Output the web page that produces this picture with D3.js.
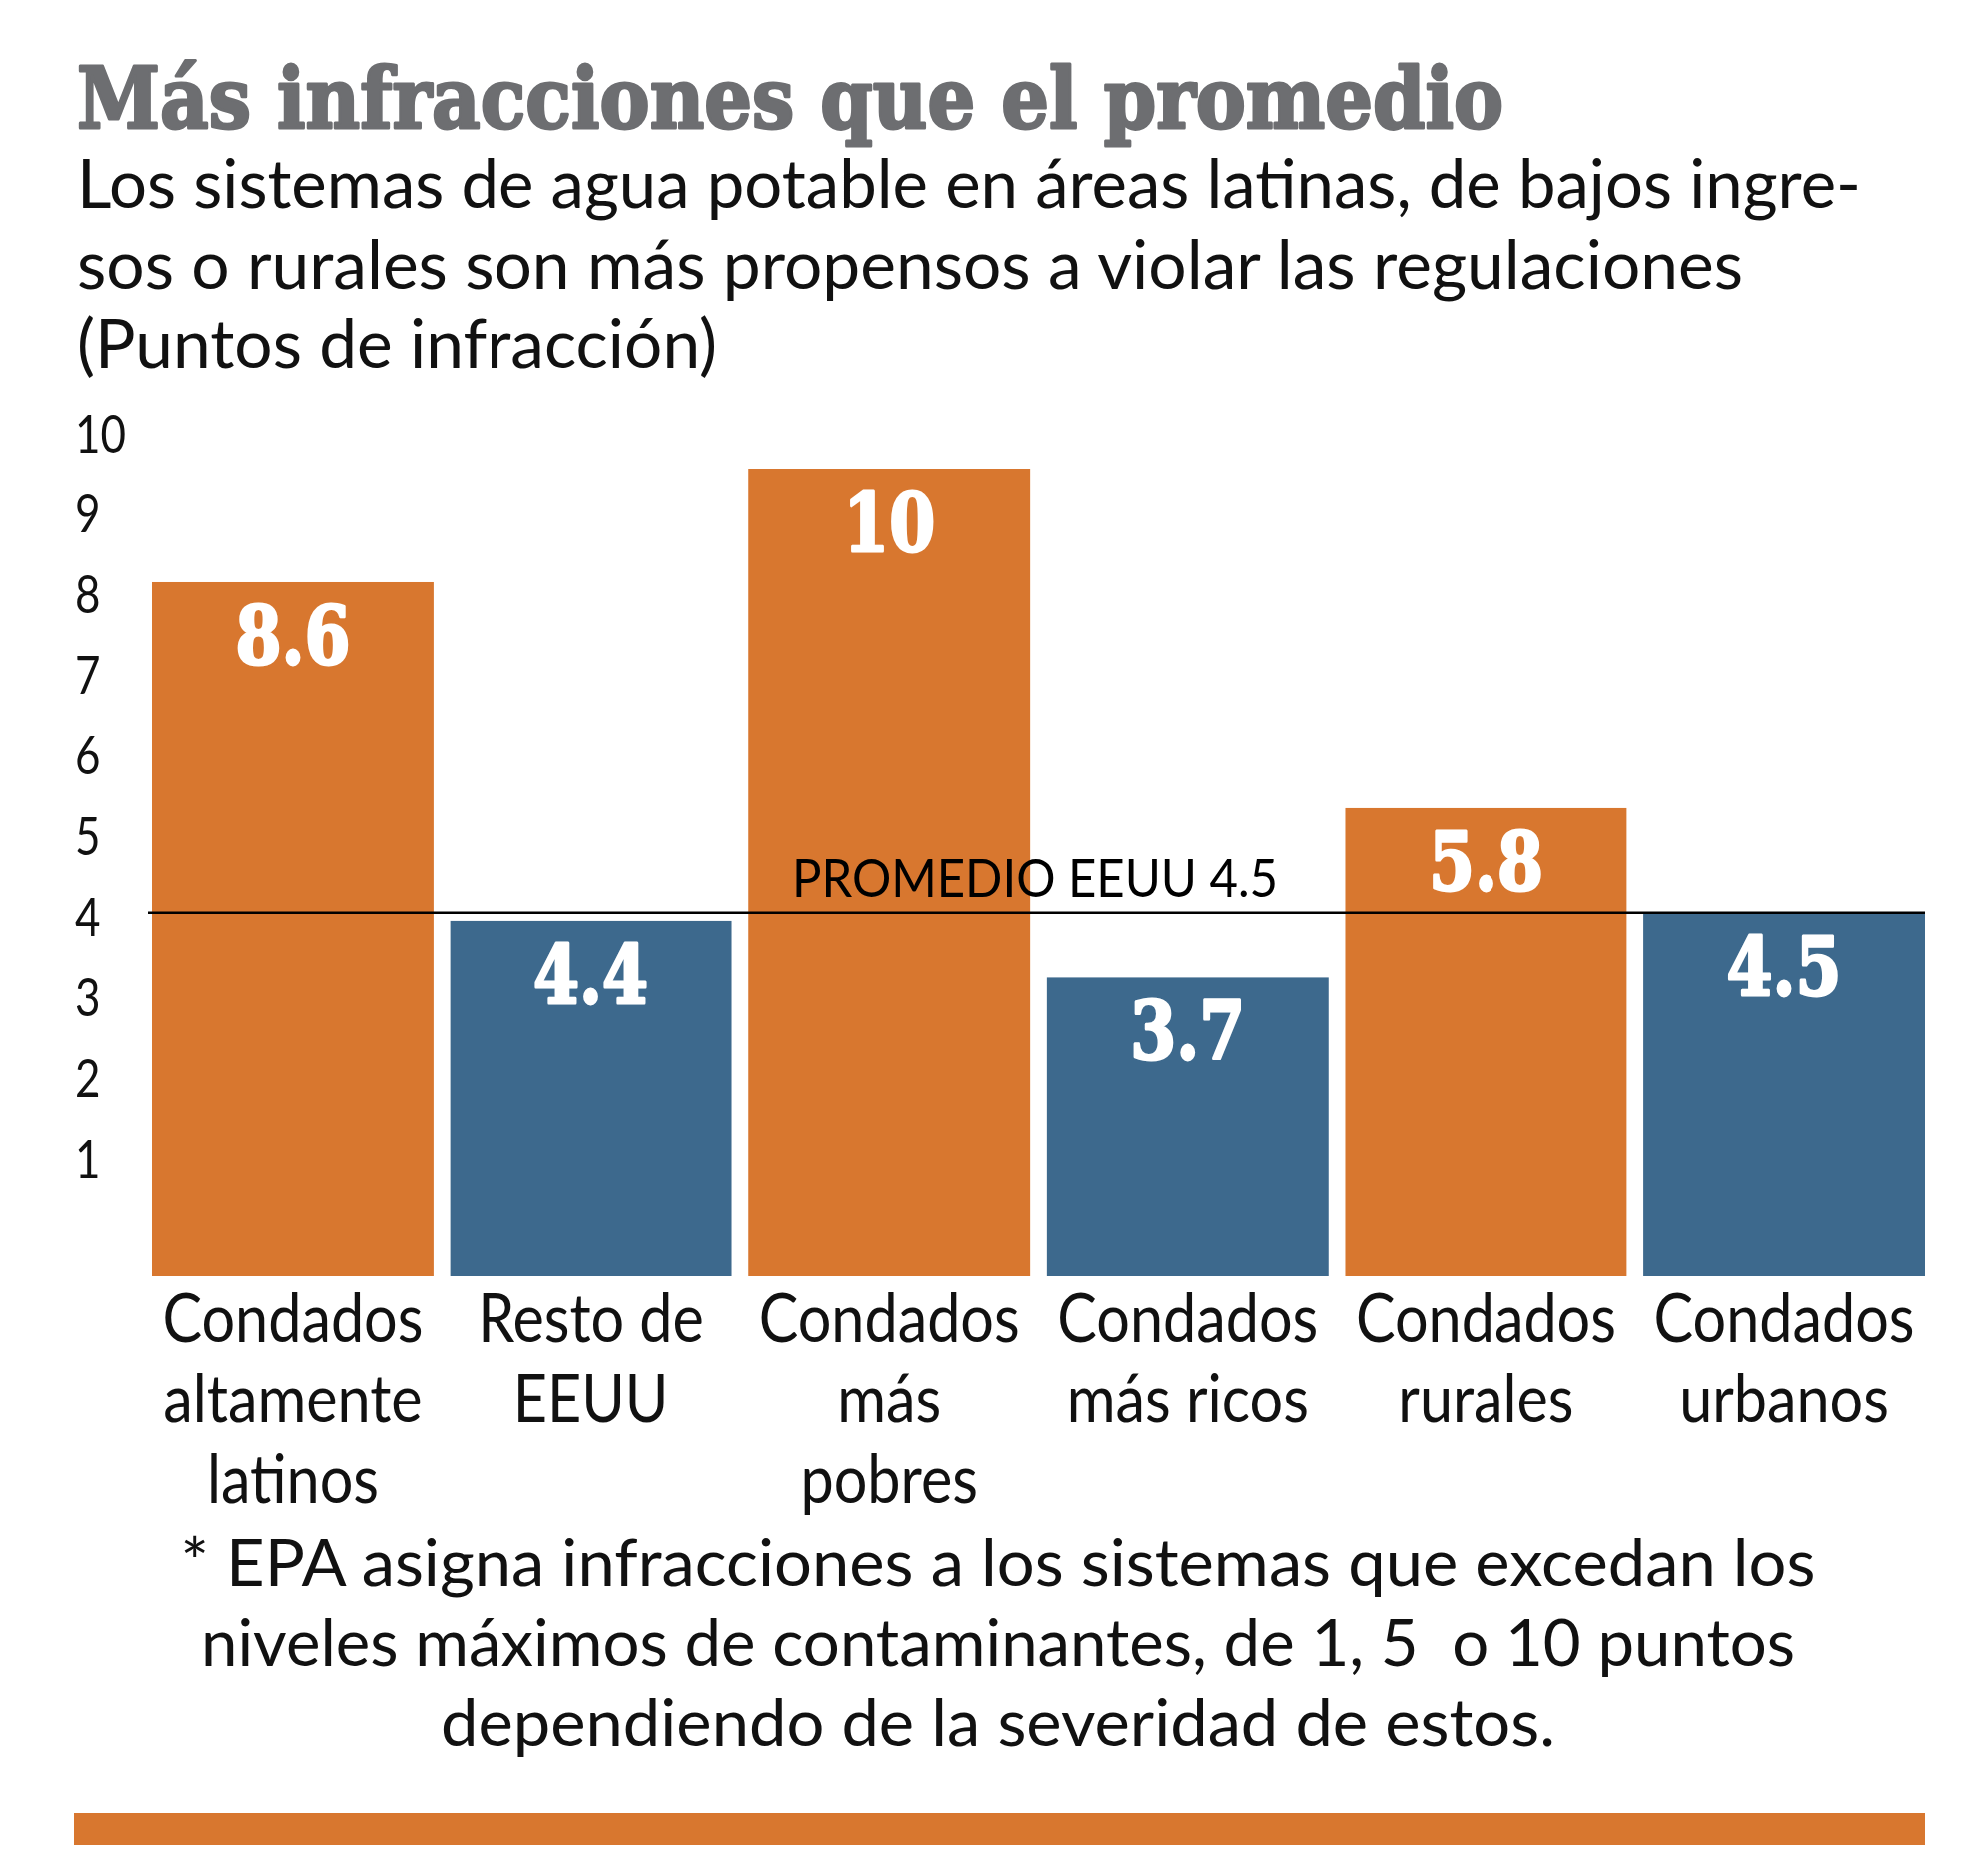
<!DOCTYPE html>
<html>
<head>
<meta charset="utf-8">
<script src="https://cdn.jsdelivr.net/npm/d3@7"></script>
<style>
  html, body { margin: 0; padding: 0; background: #ffffff; }
  svg { display: block; }
  text { white-space: pre; }
</style>
</head>
<body>
<script>
// ---------- data ----------
const categories = [
  "Condados altamente latinos",
  "Resto de EEUU",
  "Condados más pobres",
  "Condados más ricos",
  "Condados rurales",
  "Condados urbanos"
];
const categoryLines = [
  ["Condados", "altamente", "latinos"],
  ["Resto de", "EEUU"],
  ["Condados", "más", "pobres"],
  ["Condados", "más ricos"],
  ["Condados", "rurales"],
  ["Condados", "urbanos"]
];
const values = [8.6, 4.4, 10, 3.7, 5.8, 4.5];
const valueLabels = ["8.6", "4.4", "10", "3.7", "5.8", "4.5"];
const groups = ["destacado", "referencia", "destacado", "referencia", "destacado", "referencia"];
const tickValues = [1, 2, 3, 4, 5, 6, 7, 8, 9, 10];
const averageValue = 4.5;
const averageLabel = "PROMEDIO EEUU 4.5";
const titleText = "Más infracciones que el promedio";
const subtitleLines = [
  "Los sistemas de agua potable en áreas latinas, de bajos ingre-",
  "sos o rurales son más propensos a violar las regulaciones",
  "(Puntos de infracción)"
];
const footnoteLines = [
  "* EPA asigna infracciones a los sistemas que excedan los",
  "niveles máximos de contaminantes, de 1, 5  o 10 puntos",
  "dependiendo de la severidad de estos."
];

// ---------- layout ----------
const W = 1990, H = 1872;
const ORANGE = "#D8772F", BLUE = "#3D698D", GRAY = "#6D6E71";
const bodyFont = "Lato, 'Open Sans', sans-serif";
const slabFont = "'DejaVu Serif', serif";

const svg = d3.select("body").append("svg")
  .attr("width", W).attr("height", H)
  .attr("viewBox", `0 0 ${W} ${H}`);
svg.append("rect").attr("width", W).attr("height", H).attr("fill", "#fff");

function fitText(sel, targetWidth) {
  sel.each(function () {
    const n = this.getComputedTextLength();
    if (n > 0) d3.select(this).attr("textLength", targetWidth).attr("lengthAdjust", "spacingAndGlyphs");
  });
}
function scaleText(sel, factor) {
  sel.each(function () {
    const n = this.getComputedTextLength();
    if (n > 0) d3.select(this).attr("textLength", n * factor).attr("lengthAdjust", "spacingAndGlyphs");
  });
}
function measure(text, font, size, weight) {
  const t = svg.append("text").attr("font-family", font).attr("font-size", size)
    .attr("font-weight", weight || "normal").text(text);
  const w = t.node().getComputedTextLength();
  t.remove();
  return w;
}

// ---------- title ----------
svg.append("text")
  .attr("x", 77).attr("y", 128)
  .attr("font-family", slabFont).attr("font-weight", "bold")
  .attr("font-size", 85).attr("fill", GRAY)
  .attr("stroke", GRAY).attr("stroke-width", 3).attr("stroke-linejoin", "round")
  .text(titleText)
  .call(fitText, 1428);

// ---------- subtitle ----------
const subWidths = [1786, 1668, 641];
const subBase = [208, 289, 368];
svg.selectAll("text.sub").data(subtitleLines).join("text")
  .attr("class", "sub")
  .attr("x", 77).attr("y", (d, i) => subBase[i])
  .attr("font-family", bodyFont).attr("font-size", 67).attr("fill", "#111")
  .text(d => d)
  .each(function (d, i) { fitText(d3.select(this), subWidths[i]); });

// ---------- scales ----------
const x = d3.scaleBand().domain(categories).range([152, 1927]).paddingInner(0.056).paddingOuter(0);
const y = d3.scaleLinear().domain([0, 10]).range([1277, 470]);
const color = d3.scaleOrdinal().domain(["destacado", "referencia"]).range([ORANGE, BLUE]);

// ---------- y axis (labels only) ----------
const yAxis = svg.append("g").attr("class", "y-axis")
  .call(d3.axisLeft(y).tickValues(tickValues).tickSize(0).tickFormat(d3.format("d")));
yAxis.select(".domain").remove();
const tickFactor = 51 / measure("10", bodyFont, 53);
yAxis.selectAll("text")
  .attr("x", 75).attr("dy", -18)
  .attr("text-anchor", "start")
  .attr("font-family", bodyFont).attr("font-size", 53).attr("fill", "#111")
  .call(scaleText, tickFactor);

// ---------- bars ----------
svg.append("g").selectAll("rect").data(values).join("rect")
  .attr("x", (d, i) => x(categories[i]))
  .attr("width", x.bandwidth())
  .attr("y", d => y(d))
  .attr("height", d => y(0) - y(d))
  .attr("fill", (d, i) => color(groups[i]));

// ---------- value labels ----------
const valFactor = 92 / measure("10", slabFont, 80, "bold");
svg.append("g").selectAll("text").data(values).join("text")
  .attr("x", (d, i) => x(categories[i]) + x.bandwidth() / 2)
  .attr("y", d => y(d) + 82)
  .attr("text-anchor", "middle")
  .attr("font-family", slabFont).attr("font-weight", "bold")
  .attr("font-size", 80).attr("fill", "#fff")
  .attr("stroke", "#fff").attr("stroke-width", 3).attr("stroke-linejoin", "round")
  .text((d, i) => valueLabels[i])
  .call(scaleText, valFactor);

// ---------- average line ----------
svg.append("line")
  .attr("x1", x.range()[0] - 4).attr("x2", x.range()[1])
  .attr("y1", y(averageValue)).attr("y2", y(averageValue))
  .attr("stroke", "#000").attr("stroke-width", 2.5);
svg.append("text")
  .attr("x", 793).attr("y", y(averageValue) - 16)
  .attr("font-family", bodyFont).attr("font-size", 52).attr("fill", "#000")
  .text(averageLabel)
  .call(fitText, 486);

// ---------- category labels ----------
const catFactor = 261 / measure("Condados", bodyFont, 67);
const catBase = [1343, 1424, 1505];
const catG = svg.append("g").selectAll("g").data(categoryLines).join("g");
catG.selectAll("text").data((d, i) => d.map((line, j) => ({ line, j, i }))).join("text")
  .attr("x", d => x(categories[d.i]) + x.bandwidth() / 2)
  .attr("y", d => catBase[d.j])
  .attr("text-anchor", "middle")
  .attr("font-family", bodyFont).attr("font-size", 67).attr("fill", "#111")
  .text(d => d.line)
  .call(scaleText, catFactor);

// ---------- footnote ----------
const footWidths = [1637, 1596, 1116];
const footBase = [1588, 1668, 1748];
const footSize = Math.min(66, 60 * 1637 / measure(footnoteLines[0], bodyFont, 60) * 0.97);
svg.selectAll("text.foot").data(footnoteLines).join("text")
  .attr("class", "foot")
  .attr("x", 999).attr("y", (d, i) => footBase[i])
  .attr("text-anchor", "middle")
  .attr("font-family", bodyFont).attr("font-size", footSize).attr("fill", "#111")
  .text(d => d)
  .each(function (d, i) { fitText(d3.select(this), footWidths[i]); });

// ---------- bottom rule ----------
svg.append("rect")
  .attr("x", 74).attr("y", 1815)
  .attr("width", 1927 - 74).attr("height", 32)
  .attr("fill", ORANGE);
</script>
</body>
</html>
